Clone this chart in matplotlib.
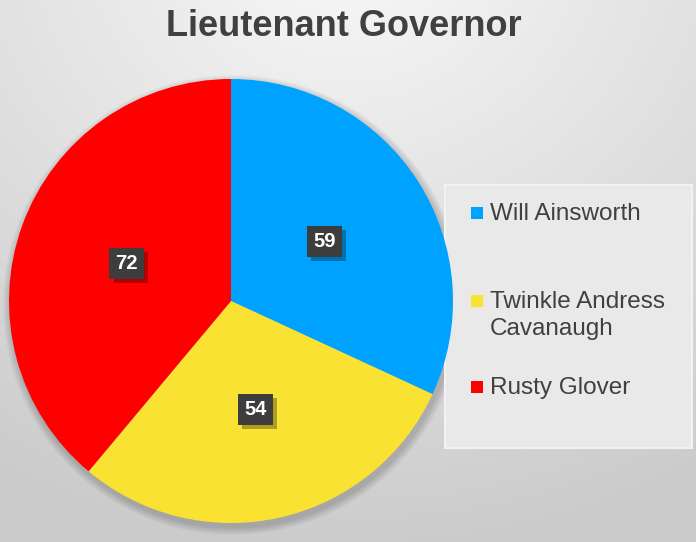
import numpy as np
import matplotlib
matplotlib.use("Agg")
import matplotlib.pyplot as plt
from matplotlib.patches import Rectangle
import matplotlib.patheffects as pe

title = "Lieutenant Governor"
candidates = ["Will Ainsworth", "Twinkle Andress\nCavanaugh", "Rusty Glover"]
votes = [59, 54, 72]
colors = ["#00A2FF", "#FAE232", "#FF0000"]

W, H = 696, 542
fig = plt.figure(figsize=(W / 100, H / 100), dpi=100)

# background gradient
bg = fig.add_axes([0, 0, 1, 1], zorder=0)
yy, xx = np.mgrid[0:H, 0:W]
d = np.sqrt(((xx - 345) / 700.0) ** 2 + ((yy + 60) / 620.0) ** 2)
d = np.clip(d, 0, 1)
g = 0.975 - 0.18 * d
img = np.dstack([g, g, g])
bg.imshow(img, extent=[0, W, H, 0], aspect="auto", interpolation="bilinear")
bg.set_xlim(0, W)
bg.set_ylim(H, 0)
bg.axis("off")

# pie shadow
cx, cy, r = 231, 301, 222
for i in range(8):
    bg.add_patch(plt.Circle((cx + 2, cy + 4), r + 8 - i, color="black",
                            alpha=0.025, lw=0))

ax = fig.add_axes([(cx - r) / W, (H - cy - r) / H, 2 * r / W, 2 * r / H], zorder=2)
wedges, _ = ax.pie(votes, colors=colors, startangle=90, counterclock=False,
                   radius=1.0, wedgeprops=dict(linewidth=0))
ax.set_xlim(-1, 1)
ax.set_ylim(-1, 1)
ax.set_aspect("equal")
ax.axis("off")

total = sum(votes)
start = 90.0
for v in votes:
    ang = np.deg2rad(start - 360.0 * v / total / 2)
    start -= 360.0 * v / total
    x, y = 0.5 * np.cos(ang), 0.5 * np.sin(ang)
    t = ax.text(x, y, str(v), ha="center", va="center", fontsize=14.5, fontweight="bold",
                family="Liberation Sans", color="white",
                bbox=dict(boxstyle="square,pad=0.3", fc="#3d3d3d", ec="none"))
    t.get_bbox_patch().set_path_effects([
        pe.SimplePatchShadow(offset=(3, -3), shadow_rgbFace="black", alpha=0.3),
        pe.Normal()])

# title
fig.text(344 / W, 1 - 26 / H, title, ha="center", va="center", fontsize=26,
         fontweight="bold", family="Liberation Sans", color="#404040")

# legend
bg.add_patch(Rectangle((445, 185), 247, 263, fc="#e9e9e9", ec="#f2f2f2", lw=1.5, zorder=3))
ys = [213, 301, 387]
for lab, c, y in zip(candidates, colors, ys):
    bg.add_patch(Rectangle((471, y - 6), 12, 12, fc=c, ec="none", zorder=4))
    bg.text(490, y - 10, lab, ha="left", va="top", fontsize=17.5,
            family="Liberation Sans", color="#404040", zorder=4, linespacing=1.32)

fig.savefig("out.png", dpi=100)
